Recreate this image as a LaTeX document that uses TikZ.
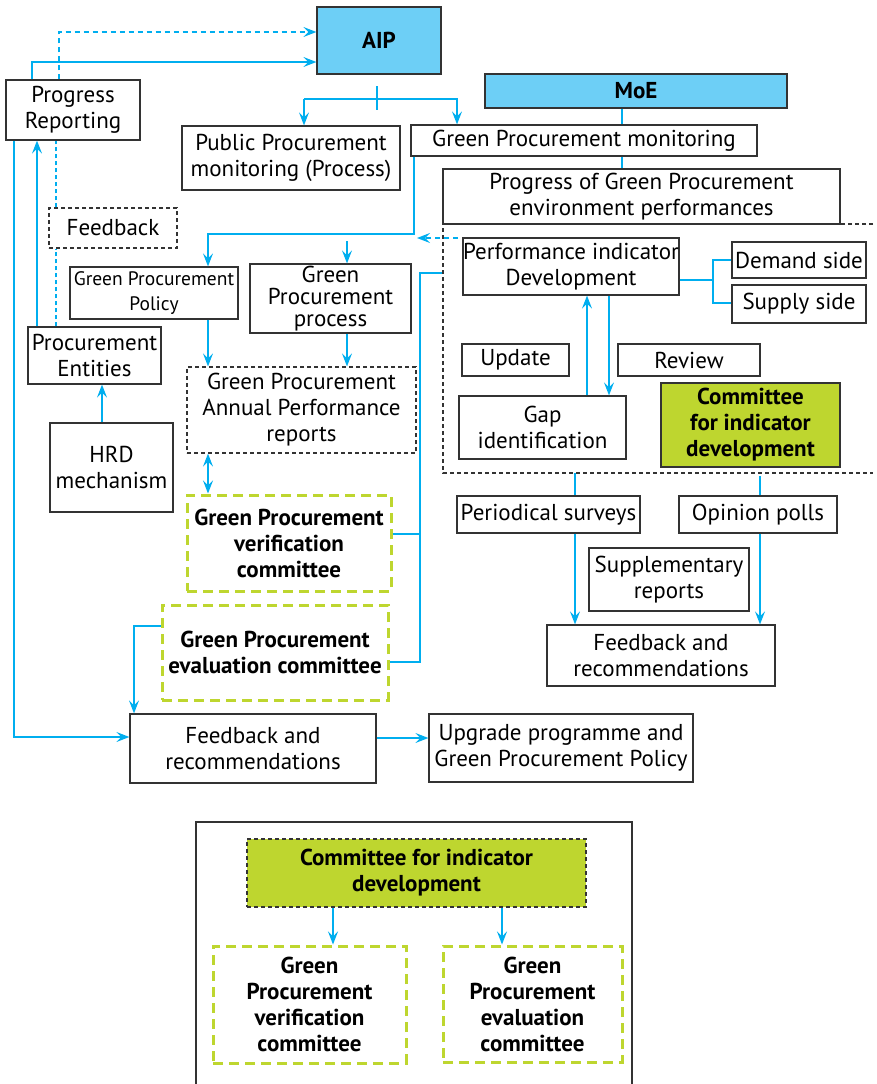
\documentclass[tikz,border=0pt]{standalone}
\usepackage{fontspec}
\setmainfont{PT Sans}
\usetikzlibrary{arrows.meta}
\definecolor{bl}{HTML}{00AEEF}
\definecolor{lbl}{HTML}{6DCFF6}
\definecolor{grn}{HTML}{BED62F}
\definecolor{bd}{HTML}{333333}
\newcommand\nf{\fontsize{23}{26}\selectfont}
\tikzset{
  bx/.style={draw=bd, line width=1.2pt, inner sep=0pt, align=center, font=\nf},
  dbx/.style={bx, dash pattern=on 4pt off 3pt},
  gbx/.style={draw=grn, line width=3pt, dash pattern=on 10pt off 6pt, inner sep=0pt, align=center, font=\nf\bfseries},
  fillb/.style={bx, fill=lbl, font=\nf\bfseries},
  fillg/.style={bx, fill=grn, font=\nf\bfseries},
  ln/.style={draw=bl, line width=1.4pt},
  ar/.style={ln, -{Stealth[length=13pt,width=10pt,inset=5pt]}},
  dar/.style={ar, dash pattern=on 5pt off 4pt},
}
\begin{document}
\begin{tikzpicture}[x=1pt,y=-1pt]
\useasboundingbox (0,0) rectangle (877,1084);
% nodes
\node[fillb, minimum width=124, minimum height=67] (AIP) at (379,40.5) {AIP};
\node[bx, minimum width=134, minimum height=60] (ProgRep) at (73,110) {Progress\\Reporting};
\node[dbx, minimum width=128, minimum height=40] (Feedback) at (113,228) {Feedback};
\node[bx, minimum width=133, minimum height=57] (ProcEnt) at (94.5,355.5) {Procurement\\Entities};
\node[bx, minimum width=123, minimum height=89] (HRD) at (111.5,467.5) {HRD\\mechanism};
\node[bx, minimum width=218, minimum height=64] (PPM) at (291,158) {Public Procurement\\monitoring (Process)};
\node[bx, minimum width=346, minimum height=31] (GPM) at (584,140.5) {Green Procurement monitoring};
\node[fillb, minimum width=302, minimum height=34] (MoE) at (636,91) {MoE};
\node[bx, minimum width=397, minimum height=55] (ProgGP) at (641.5,196.5) {Progress of Green Procurement\\environment performances};
\node[bx, minimum width=168, minimum height=52, font=\fontsize{19.5}{25}\selectfont] (GPP) at (154,293) {Green Procurement\\Policy};
\node[bx, minimum width=161, minimum height=69, font=\fontsize{23}{22}\selectfont] (GPproc) at (330.5,298.5) {Green\\Procurement\\process};
\node[dbx, minimum width=229, minimum height=86] (GPAPR) at (301.5,410) {Green Procurement\\Annual Performance\\reports};
\node[gbx, minimum width=204, minimum height=96] (Verif) at (289,543) {Green Procurement\\verification\\committee};
\node[gbx, minimum width=226, minimum height=95] (Eval) at (275,652.5) {Green Procurement\\evaluation committee};
\node[bx, minimum width=246, minimum height=69] (FBlow) at (253,748.5) {Feedback and\\recommendations};
\node[bx, minimum width=264, minimum height=68] (Upgrade) at (561,748) {Upgrade programme and\\Green Procurement Policy};
\node[bx, minimum width=216, minimum height=57] (PID) at (571,266.5) {Performance indicator\\Development};
\node[bx, minimum width=134, minimum height=36] (Demand) at (799,260) {Demand side};
\node[bx, minimum width=134, minimum height=38] (Supply) at (799,304) {Supply side};
\node[bx, minimum width=107, minimum height=32] (Update) at (515.5,360) {Update};
\node[bx, minimum width=142, minimum height=32] (Review) at (689,360) {Review};
\node[bx, minimum width=167, minimum height=63] (Gap) at (542.5,427.5) {Gap\\identification};
\node[fillg, minimum width=179, minimum height=84] (CID) at (750.5,425) {Committee\\for indicator\\development};
\node[bx, minimum width=183, minimum height=37] (Period) at (548.5,514.5) {Periodical surveys};
\node[bx, minimum width=158, minimum height=37] (Opinion) at (758,514.5) {Opinion polls};
\node[bx, minimum width=160, minimum height=63] (Suppl) at (669,579.5) {Supplementary\\reports};
\node[bx, minimum width=228, minimum height=61] (FBright) at (661,655.5) {Feedback and\\recommendations};
% dashed region
\draw[draw=bd, line width=1.2pt, dash pattern=on 4pt off 3pt] (873,224) -- (443,224) -- (443,473) -- (873,473);
% legend
\draw[draw=bd, line width=1.2pt] (196,1090) -- (196,822) -- (632,822) -- (632,1090);
\node[fillg, dash pattern=on 4pt off 3pt, minimum width=339, minimum height=68] (LCID) at (416.5,873) {Committee for indicator\\development};
\node[gbx, minimum width=193, minimum height=117] (LVerif) at (309.5,1004.5) {Green\\Procurement\\verification\\committee};
\node[gbx, minimum width=179, minimum height=116] (LEval) at (532.5,1004) {Green\\Procurement\\evaluation\\committee};
% connectors
\draw[ar] (32,0 |- ProgRep.north) -- (32,62) -- (AIP.west |- 0,62);
\draw[dar] (59,0 |- ProgRep.north) -- (59,32) -- (AIP.west |- 0,32);
\draw[ln, dash pattern=on 4pt off 3pt] (56,0 |- ProcEnt.north) -- (56,0 |- Feedback.south);
\draw[ln, dash pattern=on 4pt off 3pt] (56,0 |- Feedback.north) -- (56,0 |- ProgRep.south);
\draw[ar] (37,0 |- ProcEnt.north) -- (37,0 |- ProgRep.south);
\draw[ar] (14,0 |- ProgRep.south) -- (14,737) -- (FBlow.west |- 0,737);
\draw[ar] (102,0 |- HRD.north) -- (102,0 |- ProcEnt.south);
\coordinate (AIPt) at (377,86);
\coordinate (AIPb) at (377,110);
\draw[ln] (AIPt) -- (AIPb);
\draw[ar] (304,99) -- (304,0 |- PPM.north);
\draw[ar] (304,99) -- (457,99) -- (457,0 |- GPM.north);
\draw[ln] (622,0 |- MoE.south) -- (622,0 |- GPM.north);
\draw[ln] (622,0 |- GPM.south) -- (622,0 |- ProgGP.north);
\draw[ar] (414,0 |- GPM.south) -- (414,234) -- (208,234) -- (208,0 |- GPP.north);
\draw[ar] (347,241) -- (347,0 |- GPproc.north);
\draw[ar] (208,0 |- GPP.south) -- (208,0 |- GPAPR.north);
\draw[ar] (347,0 |- GPproc.south) -- (347,0 |- GPAPR.north);
\draw[ar, {Stealth[length=13pt,width=10pt,inset=5pt]}-{Stealth[length=13pt,width=10pt,inset=5pt]}] (208,0 |- GPAPR.south) -- (208,0 |- Verif.north);
\draw[ln] (442,273) -- (420,273) -- (420,662) -- (Eval.east |- 0,662);
\draw[ln] (Verif.east |- 0,534) -- (420,534);
\draw[ar] (Eval.west |- 0,626) -- (134,626) -- (134,0 |- FBlow.north);
\draw[ar] (FBlow.east |- 0,738) -- (Upgrade.west |- 0,738);
\draw[dar] (458,238) -- (417,238);
\draw[ln] (PID.east |- 0,280) -- (713,280);
\draw[ln] (Demand.west) -- (713,260) -- (713,303) -- (Supply.west |- 0,303);
\draw[ar] (587,0 |- Gap.north) -- (587,0 |- PID.south);
\draw[ar] (609,0 |- PID.south) -- (609,0 |- Gap.north);
\draw[ln] (575,473) -- (575,0 |- Period.north);
\draw[ln] (760,476) -- (760,0 |- Opinion.north);
\draw[ar] (575,0 |- Period.south) -- (575,0 |- FBright.north);
\draw[ar] (760,0 |- Opinion.south) -- (760,0 |- FBright.north);
\draw[ar] (333,0 |- LCID.south) -- (333,0 |- LVerif.north);
\draw[ar] (502,0 |- LCID.south) -- (502,0 |- LEval.north);
\end{tikzpicture}
\end{document}
